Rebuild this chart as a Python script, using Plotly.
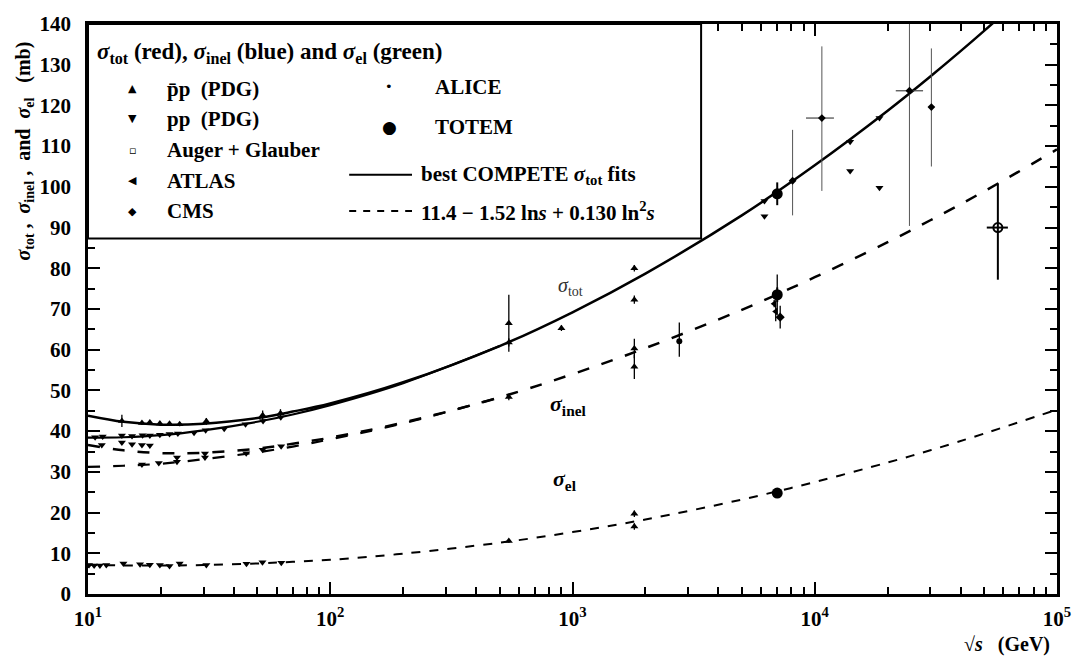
import plotly.graph_objects as go

# ---------------- fitted curves (values along the drawn lines) ----------------
fit_sqrt_s = [10, 14, 20, 30, 50, 70, 100, 200, 500, 1000, 2000, 5000,
              10000, 20000, 30000, 50000, 100000]
tot_ppbar_fit = [43.8, 42.3, 41.6, 41.8, 43.2, 44.8, 46.8, 52.0, 60.9, 69.2,
                 78.7, 93.0, 105.3, 118.7, 127.1, 138.3, 154.5]
inel_ppbar_fit = [36.6, 35.3, 34.6, 34.7, 35.7, 36.9, 38.4, 42.1, 48.3, 54.0,
                  60.4, 69.8, 77.8, 86.4, 91.8, 98.9, 109.2]
el_fit = [7.2, 7.0, 7.0, 7.1, 7.5, 7.9, 8.4, 9.9, 12.6, 15.2,
          18.3, 23.2, 27.5, 32.3, 35.3, 39.4, 45.3]

low_sqrt_s = [10, 14, 20, 30, 50, 70, 100, 200, 500]
tot_pp_fit = [38.4, 38.5, 39.0, 40.2, 42.3, 44.1, 46.4, 51.8, 60.9]
inel_pp_fit = [31.2, 31.5, 32.0, 33.1, 34.8, 36.2, 38.0, 41.9, 48.3]

# ---------------- measurements ----------------
# pbar-p (PDG)
ppbar_x = [13.8, 16.7, 18.0, 19.8, 21.7, 23.9, 30.8, 52.6, 62.3, 546, 546, 900, 1800, 1800,
           546, 1800, 1800,
           546, 1800, 1800]
ppbar_y = [42.5, 42.0, 42.1, 41.9, 41.8, 41.7, 42.4, 43.9, 44.4, 61.8, 66.5, 65.3, 80.0, 72.3,
           48.4, 60.3, 55.8,
           13.0, 19.7, 16.6]
ppbar_err = [1.5, 0.5, 0.5, 0.5, 0.5, 0.5, 0.8, 1.2, 1.0, 1.0, 7.0, 0.7, 0.8, 1.0,
             0.8, 2.4, 3.0,
             0.4, 0.8, 0.8]

# pp (PDG), accelerator and cosmic-ray points
pp_x = [10.7, 11.5, 13.8, 15.2, 16.8, 18.0, 19.8, 21.7, 23.5, 27.4, 30.6, 36.5, 44.7, 52.8, 62.5,
        11.4, 13.8, 15.2, 16.7, 18.0,
        16.7, 19.6, 23.3, 23.3, 30.4, 30.4, 45.0, 52.6, 62.7,
        10.1, 10.6, 11.2, 11.9, 14.0, 16.4, 18.0, 19.8, 21.7, 23.9, 30.8, 45.1, 52.5, 62.8,
        6200, 6200, 14000, 14000, 18500, 18500]
pp_y = [38.5, 38.7, 38.9, 38.8, 39.0, 38.9, 39.1, 39.3, 39.4, 39.6, 40.2, 40.6, 41.7, 42.5, 43.4,
        36.6, 37.2, 36.8, 36.6, 36.5,
        31.8, 32.2, 32.5, 33.5, 33.5, 34.5, 34.6, 35.4, 36.3,
        7.1, 7.0, 7.0, 7.1, 7.5, 7.3, 7.2, 7.1, 6.9, 7.5, 7.1, 7.4, 7.8, 7.7,
        96.5, 92.8, 111.1, 103.9, 116.9, 99.8]

# cosmic-ray total cross sections with wide uncertainties
cosmic_x = [8100, 10700, 24600, 30300]
cosmic_y = [101.5, 116.9, 123.6, 119.6]
cosmic_err_up = [12.5, 17.6, 20.0, 14.4]
cosmic_err_dn = [8.5, 17.9, 33.2, 14.6]
cosmic_xerr_up = [0, 1300, 3400, 0]
cosmic_xerr_dn = [0, 1500, 3000, 0]

# LHC experiments at 7 TeV (and ALICE at 2.76 TeV)
atlas_x = [6900, 6800]
atlas_y = [69.4, 71.3]
atlas_err = [2.4, 0.9]

cms_x = [7200]
cms_y = [68.0]
cms_err = [2.8]

alice_x = [2760, 7000]
alice_y = [62.1, 73.2]
alice_err_up = [4.6, 5.3]
alice_err_dn = [3.8, 4.6]

totem_x = [7000, 7000, 7000]
totem_y = [98.3, 73.5, 24.8]
totem_err = [2.8, 1.8, 1.2]

auger_x = [57000]
auger_y = [90.0]
auger_err_up = [10.8]
auger_err_dn = [12.8]
auger_xerr = [5700]

# axis ticks
x_tickvals = [10, 100, 1000, 10000, 100000]
x_ticktext = ["10<sup>1</sup>", "10<sup>2</sup>", "10<sup>3</sup>", "10<sup>4</sup>", "10<sup>5</sup>"]
x_minor = [m * 10 ** d for d in range(1, 5) for m in range(2, 10)]

SERIF = "Liberation Serif"
INK = "black"

fig = go.Figure()

# fitted curves
fig.add_trace(go.Scatter(x=fit_sqrt_s, y=tot_ppbar_fit, mode="lines", line_shape="spline",
                         line=dict(color=INK, width=2.5)))
fig.add_trace(go.Scatter(x=low_sqrt_s, y=tot_pp_fit, mode="lines", line_shape="spline",
                         line=dict(color=INK, width=2.2)))
fig.add_trace(go.Scatter(x=fit_sqrt_s, y=inel_ppbar_fit, mode="lines", line_shape="spline",
                         line=dict(color=INK, width=2.5, dash="12px,13px")))
fig.add_trace(go.Scatter(x=low_sqrt_s, y=inel_pp_fit, mode="lines", line_shape="spline",
                         line=dict(color=INK, width=2.2, dash="12px,13px")))
fig.add_trace(go.Scatter(x=fit_sqrt_s, y=el_fit, mode="lines", line_shape="spline",
                         line=dict(color=INK, width=2.0, dash="9px,9px")))


def err(arr_up, arr_dn=None, color=INK, thick=1.3):
    d = dict(type="data", array=arr_up, color=color, thickness=thick, width=0, visible=True)
    if arr_dn is not None:
        d["symmetric"] = False
        d["arrayminus"] = arr_dn
    return d


# measurements
fig.add_trace(go.Scatter(x=cosmic_x, y=cosmic_y, mode="markers",
                         marker=dict(symbol="diamond", size=6, color=INK),
                         error_y=err(cosmic_err_up, cosmic_err_dn, color="#555", thick=1.0),
                         error_x=dict(type="data", array=cosmic_xerr_up, arrayminus=cosmic_xerr_dn,
                                      symmetric=False, color="#444", thickness=1.2, width=0)))
fig.add_trace(go.Scatter(x=ppbar_x, y=ppbar_y, mode="markers",
                         marker=dict(symbol="triangle-up", size=7, color=INK),
                         error_y=err(ppbar_err)))
fig.add_trace(go.Scatter(x=pp_x, y=pp_y, mode="markers",
                         marker=dict(symbol="triangle-down", size=7, color=INK)))
fig.add_trace(go.Scatter(x=atlas_x, y=atlas_y, mode="markers",
                         marker=dict(symbol="triangle-left", size=7, color=INK),
                         error_y=err(atlas_err)))
fig.add_trace(go.Scatter(x=cms_x, y=cms_y, mode="markers",
                         marker=dict(symbol="diamond", size=7, color=INK),
                         error_y=err(cms_err)))
fig.add_trace(go.Scatter(x=alice_x, y=alice_y, mode="markers",
                         marker=dict(symbol="circle", size=6, color=INK),
                         error_y=err(alice_err_up, alice_err_dn)))
fig.add_trace(go.Scatter(x=totem_x, y=totem_y, mode="markers",
                         marker=dict(symbol="circle", size=11, color=INK),
                         error_y=err(totem_err, thick=2)))
fig.add_trace(go.Scatter(x=auger_x, y=auger_y, mode="markers",
                         marker=dict(symbol="circle-open", size=9, color=INK, line=dict(width=2)),
                         error_y=err(auger_err_up, auger_err_dn, thick=2),
                         error_x=dict(type="data", array=auger_xerr, color=INK, thickness=2, width=0)))


# ---------------- legend box (drawn by hand, two columns) ----------------
def px_x(px):
    return (px - 88) / 972.0


def px_y(py):
    return (594 - py) / 582.0


ROW_SOLID = 166
ROW_DASH = 203

shapes = [
    dict(type="rect", xref="paper", yref="paper", x0=0, x1=px_x(703), y0=px_y(231), y1=1,
         fillcolor="white", line=dict(color=INK, width=2), layer="above"),
    dict(type="line", xref="paper", yref="paper", x0=px_x(350), x1=px_x(413),
         y0=px_y(ROW_SOLID), y1=px_y(ROW_SOLID), line=dict(color=INK, width=2), layer="above"),
    dict(type="line", xref="paper", yref="paper", x0=px_x(350), x1=px_x(413),
         y0=px_y(ROW_DASH), y1=px_y(ROW_DASH), line=dict(color=INK, width=2, dash="7px,7px"),
         layer="above"),
]

legend_font = dict(family=SERIF, size=21, color=INK, weight="bold")
annotations = []


def text_at(px, py, text, font=legend_font, xanchor="left"):
    annotations.append(dict(xref="paper", yref="paper", x=px_x(px), y=px_y(py), text=text,
                            showarrow=False, xanchor=xanchor, yanchor="middle", font=font))


text_at(95, 42, "<i>σ</i><sub>tot</sub> (red), <i>σ</i><sub>inel</sub> (blue) and "
                "<i>σ</i><sub>el</sub> (green)", font=dict(family=SERIF, size=23, color=INK, weight="bold"))

glyph_font = dict(family="DejaVu Sans", size=11, color=INK)
left_rows = [("▲", "p\u0304p  (PDG)", 78), ("▼", "pp  (PDG)", 109), ("▫", "Auger + Glauber", 141),
             ("◀", "ATLAS", 172), ("◆", "CMS", 203)]
for glyph, label, py in left_rows:
    text_at(133, py, glyph, font=glyph_font, xanchor="center")
    text_at(165, py, label)

text_at(390, 76, "•", font=dict(family="DejaVu Sans", size=13, color=INK), xanchor="center")
text_at(434, 76, "ALICE")
text_at(390, 117, "●", font=dict(family="DejaVu Sans", size=17, color=INK), xanchor="center")
text_at(434, 117, "TOTEM")
text_at(420, ROW_SOLID, "best COMPETE <i>σ</i><sub>tot</sub> fits")
text_at(420, ROW_DASH, "11.4 − 1.52 ln<i>s</i> + 0.130 ln<sup>2</sup><i>s</i>")

# curve labels
annotations += [
    dict(x=2.992, y=75.5, xref="x", yref="y", text="<i>σ</i><sub>tot</sub>", showarrow=False,
         font=dict(family=SERIF, size=20, color="#333")),
    dict(x=2.984, y=46.4, xref="x", yref="y", text="<i>σ</i><sub>inel</sub>", showarrow=False,
         font=dict(family=SERIF, size=22, color=INK, weight="bold")),
    dict(x=2.971, y=27.9, xref="x", yref="y", text="<i>σ</i><sub>el</sub>", showarrow=False,
         font=dict(family=SERIF, size=22, color=INK, weight="bold")),
]

# axis titles
annotations += [
    dict(xref="paper", yref="paper", x=px_x(24), y=px_y(142), textangle=-90,
         text="<i>σ</i><sub>tot</sub> ,  <i>σ</i><sub>inel</sub> ,  and  <i>σ</i><sub>el</sub>"
              "\u00a0\u00a0\u00a0(mb)",
         showarrow=False, xanchor="center", yanchor="middle",
         font=dict(family=SERIF, size=20, color=INK, weight="bold")),
    dict(xref="paper", yref="paper", x=px_x(1010), y=px_y(646),
         text="√<i>s</i>\u00a0\u00a0\u00a0(GeV)", showarrow=False, xanchor="center", yanchor="middle",
         font=dict(family=SERIF, size=20, color=INK, weight="bold")),
]

tick_font = dict(family=SERIF, size=21, color=INK, weight="bold")

fig.update_layout(
    width=1083, height=664,
    margin=dict(l=88, r=23, t=12, b=70),
    paper_bgcolor="white", plot_bgcolor="white",
    showlegend=False,
    shapes=shapes,
    annotations=annotations,
    xaxis=dict(type="log", range=[1, 5], tickmode="array", tickvals=x_tickvals,
               ticktext=x_ticktext, ticks="inside", ticklen=12, tickwidth=2, tickcolor=INK,
               showline=True, linewidth=2.5, linecolor=INK, mirror="ticks",
               showgrid=False, zeroline=False, tickfont=tick_font, ticklabelstandoff=4,
               minor=dict(tickmode="array", tickvals=x_minor, ticks="inside", ticklen=7,
                          tickwidth=2, tickcolor=INK, showgrid=False)),
    yaxis=dict(range=[0, 140], tickmode="linear", tick0=0, dtick=10, ticks="inside",
               ticklen=12, tickwidth=2, tickcolor=INK,
               showline=True, linewidth=2.5, linecolor=INK, mirror="ticks",
               showgrid=False, zeroline=False, tickfont=tick_font, ticklabelstandoff=10,
               minor=dict(dtick=5, ticks="inside", ticklen=7, tickwidth=2, tickcolor=INK,
                          showgrid=False)),
)

fig.write_html("out.html")
